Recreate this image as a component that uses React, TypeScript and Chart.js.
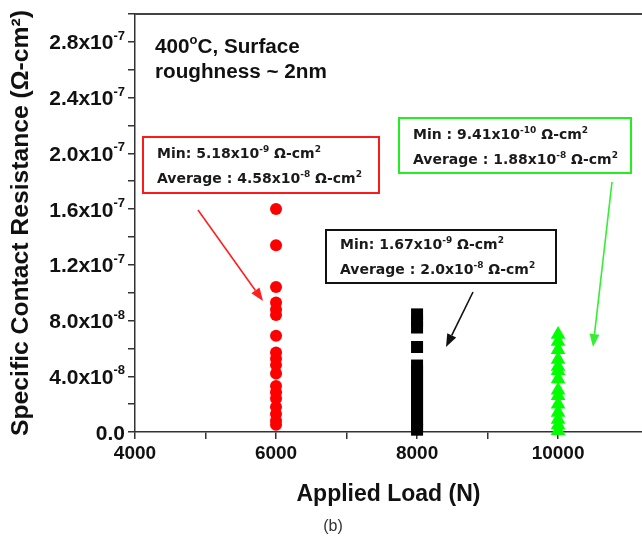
import React, { useEffect, useRef } from "react";
import { Chart, registerables } from "chart.js";

Chart.register(...registerables);

// ---- data ----
const loads = [6000, 8000, 10000];
const redValues = [16.0e-8, 13.4e-8, 10.4e-8, 9.3e-8, 8.8e-8, 8.4e-8, 6.9e-8, 5.7e-8, 5.25e-8, 4.8e-8, 4.2e-8, 3.3e-8, 2.85e-8, 2.4e-8, 1.8e-8, 1.3e-8, 0.8e-8, 0.518e-8];
const blackValues = [8.44e-8, 7.94e-8, 7.5e-8, 6.1e-8, 4.77e-8, 4.34e-8, 3.9e-8, 3.47e-8, 3.04e-8, 2.6e-8, 2.18e-8, 1.75e-8, 1.32e-8, 0.88e-8, 0.45e-8, 0.167e-8];
const greenValues = [7.0e-8, 6.5e-8, 5.9e-8, 5.2e-8, 4.7e-8, 4.4e-8, 3.8e-8, 3.0e-8, 2.6e-8, 2.0e-8, 1.4e-8, 0.9e-8, 0.5e-8, 0.094e-8];

const xTickValues = [4000, 5000, 6000, 7000, 8000, 9000, 10000];
const xTickLabels = ["4000", "", "6000", "", "8000", "", "10000"];
// y tick labels: mantissa and power-of-ten exponent (major ticks every 4e-8)
const yTickMantissa = ["0.0", "4.0", "8.0", "1.2", "1.6", "2.0", "2.4", "2.8"];
const yTickExponent = ["", "-8", "-8", "-7", "-7", "-7", "-7", "-7"];

const X_MIN = 4000;
const X_MAX = 11190;
const Y_MIN = 0;
const Y_MAX = 3.0e-7;
const Y_STEP = 2e-8;

const SANS = "'Liberation Sans', Arial, sans-serif";

type Part = [string, boolean?];

function measureRich(ctx: CanvasRenderingContext2D, parts: Part[], size: number, supSize: number, family: string) {
  let w = 0;
  for (const [t, sup] of parts) {
    ctx.font = `bold ${sup ? supSize : size}px ${family}`;
    w += ctx.measureText(t).width;
  }
  return w;
}

function drawRich(ctx: CanvasRenderingContext2D, x: number, y: number, parts: Part[], size: number, family: string, color: string, supRatio = 0.62, raise = 0.42) {
  let cx = x;
  ctx.fillStyle = color;
  ctx.textBaseline = "alphabetic";
  ctx.textAlign = "left";
  for (const [t, sup] of parts) {
    const s = sup ? Math.round(size * supRatio) : size;
    ctx.font = `bold ${s}px ${family}`;
    ctx.fillText(t, cx, sup ? y - size * raise : y);
    cx += ctx.measureText(t).width;
  }
}

function arrow(ctx: CanvasRenderingContext2D, x1: number, y1: number, x2: number, y2: number, color: string) {
  const ang = Math.atan2(y2 - y1, x2 - x1);
  const hl = 13, hw = 5;
  const bx = x2 - Math.cos(ang) * hl, by = y2 - Math.sin(ang) * hl;
  ctx.strokeStyle = color;
  ctx.fillStyle = color;
  ctx.lineWidth = 1.6;
  ctx.beginPath();
  ctx.moveTo(x1, y1);
  ctx.lineTo(bx, by);
  ctx.stroke();
  ctx.beginPath();
  ctx.moveTo(x2, y2);
  ctx.lineTo(bx + Math.sin(ang) * hw, by - Math.cos(ang) * hw);
  ctx.lineTo(bx - Math.sin(ang) * hw, by + Math.cos(ang) * hw);
  ctx.closePath();
  ctx.fill();
}

const annotPlugin = {
  id: "annot",
  afterDraw(chart: any) {
    const ctx: CanvasRenderingContext2D = chart.ctx;
    const a = chart.chartArea;
    ctx.save();
    // top frame line
    ctx.strokeStyle = "#444";
    ctx.lineWidth = 2;
    ctx.beginPath();
    ctx.moveTo(a.left, a.top);
    ctx.lineTo(chart.width, a.top);
    ctx.stroke();

    // y tick labels with real superscripts, positioned by the y scale
    const ys = chart.scales.y;
    const labelRight = ys.right - 10;
    yTickMantissa.forEach((m, i) => {
      const value = Y_MIN + i * 2 * Y_STEP;
      const py = ys.getPixelForValue(value);
      const exp = yTickExponent[i];
      const parts: Part[] = exp ? [[m + "x10"], [exp, true]] : [[m]];
      const w = measureRich(ctx, parts, 21, 13, SANS);
      drawRich(ctx, labelRight - w, py + 7.5, parts, 21, SANS, "#111", 0.62, 0.45);
    });

    const boxFont = "'DejaVu Sans', Verdana, sans-serif";
    const txt = "#1a1a1a";

    // heading
    drawRich(ctx, 155, 53, [["400"], ["o", true], ["C, Surface"]], 20.7, SANS, "#111");
    drawRich(ctx, 155, 78, [["roughness ~ 2nm"]], 20.7, SANS, "#111");

    // red box
    ctx.lineWidth = 2;
    ctx.strokeStyle = "#ff1a1a";
    ctx.strokeRect(143, 137, 236, 56);
    drawRich(ctx, 157, 158, [["Min: 5.18x10"], ["-9", true], [" Ω-cm"], ["2", true]], 14, boxFont, txt);
    drawRich(ctx, 157, 183, [["Average : 4.58x10"], ["-8", true], [" Ω-cm"], ["2", true]], 14, boxFont, txt);

    // green box
    ctx.strokeStyle = "#22ee22";
    ctx.strokeRect(399, 118, 232, 55);
    drawRich(ctx, 413, 139, [["Min : 9.41x10"], ["-10", true], [" Ω-cm"], ["2", true]], 14, boxFont, txt);
    drawRich(ctx, 413, 164, [["Average : 1.88x10"], ["-8", true], [" Ω-cm"], ["2", true]], 14, boxFont, txt);

    // black box
    ctx.strokeStyle = "#111";
    ctx.strokeRect(326, 230, 230, 53);
    drawRich(ctx, 340, 249, [["Min: 1.67x10"], ["-9", true], [" Ω-cm"], ["2", true]], 14, boxFont, txt);
    drawRich(ctx, 340, 274, [["Average : 2.0x10"], ["-8", true], [" Ω-cm"], ["2", true]], 14, boxFont, txt);

    // arrows
    arrow(ctx, 198, 210, 263, 301, "#ff2020");
    arrow(ctx, 473, 292, 446, 347, "#111");
    arrow(ctx, 612, 182, 593, 347, "#33ee33");

    // caption
    ctx.font = `16px ${SANS}`;
    ctx.fillStyle = "#333";
    ctx.textAlign = "center";
    ctx.textBaseline = "middle";
    ctx.fillText("(b)", 333, 527);
    ctx.restore();
  },
};

export default function App() {
  const ref = useRef<HTMLCanvasElement | null>(null);
  useEffect(() => {
    document.body.style.margin = "0";
    const canvas = ref.current;
    if (!canvas) return;
    const tickFont = { family: SANS, size: 19, weight: "bold" as const };
    const chart = new Chart(canvas, {
      type: "scatter",
      data: {
        datasets: [
          {
            label: "6000 N",
            data: redValues.map((v) => ({ x: loads[0], y: v })),
            pointStyle: "circle",
            pointRadius: 6,
            pointBorderWidth: 0,
            backgroundColor: "#ff0000",
            borderColor: "#ff0000",
            clip: false,
          } as any,
          {
            label: "8000 N",
            data: blackValues.map((v) => ({ x: loads[1], y: v })),
            pointStyle: "rect",
            pointRadius: 8.5,
            pointBorderWidth: 0,
            backgroundColor: "#000000",
            borderColor: "#000000",
            clip: false,
          } as any,
          {
            label: "10000 N",
            data: greenValues.map((v) => ({ x: loads[2], y: v })),
            pointStyle: "triangle",
            pointRadius: 8.5,
            pointBorderWidth: 0,
            backgroundColor: "#00ff00",
            borderColor: "#00ff00",
            clip: false,
          } as any,
        ],
      },
      options: {
        animation: false,
        responsive: false,
        devicePixelRatio: 1,
        layout: { autoPadding: false, padding: { top: 14, right: 0, left: 0, bottom: 0 } },
        plugins: { legend: { display: false }, tooltip: { enabled: false } },
        scales: {
          x: {
            type: "linear",
            min: X_MIN,
            max: X_MAX,
            afterBuildTicks: (scale: any) => {
              scale.ticks = xTickValues.map((v) => ({ value: v }));
            },
            afterFit: (scale: any) => {
              scale.height = 108;
              scale.paddingRight = 0;
              scale.paddingLeft = 0;
            },
            ticks: {
              autoSkip: false,
              maxRotation: 0,
              padding: 3,
              color: "#111",
              font: tickFont,
              callback: (_v: any, i: number) => xTickLabels[i] ?? "",
            },
            grid: { display: true, drawOnChartArea: false, drawTicks: true, tickLength: 7, color: "#333", lineWidth: 1.5 },
            border: { display: true, color: "#333", width: 1.5 },
            title: {
              display: true,
              text: "Applied Load (N)",
              color: "#111",
              font: { family: SANS, size: 23, weight: "bold" },
              padding: { top: 0, bottom: 32 },
            },
          },
          y: {
            type: "linear",
            min: Y_MIN,
            max: Y_MAX,
            afterBuildTicks: (scale: any) => {
              const t = [];
              for (let i = 0; i <= 15; i++) t.push({ value: Y_MIN + i * Y_STEP });
              scale.ticks = t;
            },
            afterFit: (scale: any) => {
              scale.width = 135;
              scale.paddingTop = 0;
              scale.paddingBottom = 0;
            },
            ticks: {
              autoSkip: false,
              padding: 6,
              color: "#111",
              font: tickFont,
              callback: () => "",
            },
            grid: { display: true, drawOnChartArea: false, drawTicks: true, tickLength: 7, color: "#333", lineWidth: 1.5 },
            border: { display: true, color: "#333", width: 1.5 },
            title: {
              display: true,
              text: "Specific Contact Resistance (Ω-cm²)",
              color: "#111",
              font: { family: SANS, size: 24.7, weight: "bold" },
              padding: { top: 6, bottom: 0 },
            },
          },
        },
      },
      plugins: [annotPlugin],
    });
    return () => chart.destroy();
  }, []);
  return (
    <div style={{ width: 642, height: 540 }}>
      <canvas ref={ref} width={642} height={540} style={{ display: "block" }} />
    </div>
  );
}
